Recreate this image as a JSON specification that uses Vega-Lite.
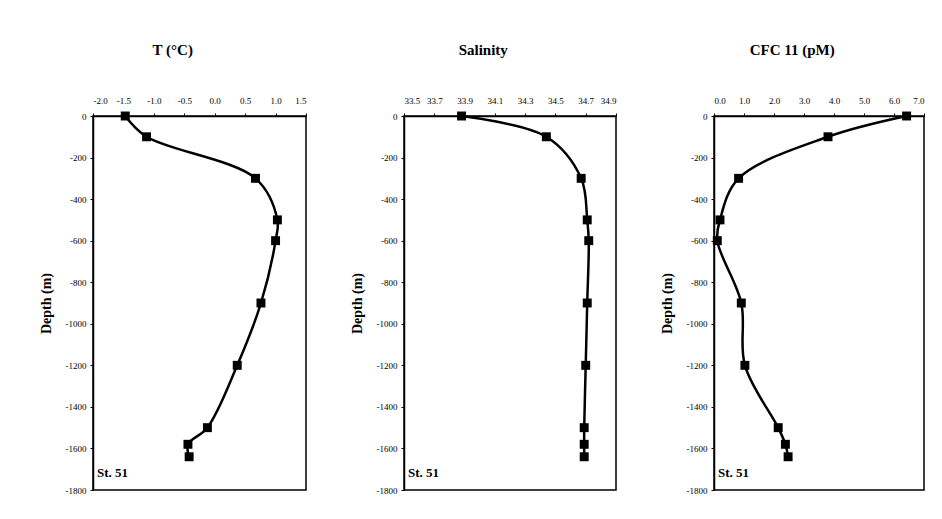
{
  "$schema": "https://vega.github.io/schema/vega-lite/v6.json",
  "padding": {"top": 42, "left": 38, "right": 5, "bottom": 5},
  "background": "white",
  "bounds": "flush",
  "datasets": {
    "temp": [
      {"depth": 0, "value": -1.47},
      {"depth": -100, "value": -1.12},
      {"depth": -300, "value": 0.67},
      {"depth": -500, "value": 1.03},
      {"depth": -600, "value": 1.0},
      {"depth": -900, "value": 0.76},
      {"depth": -1200, "value": 0.37},
      {"depth": -1500, "value": -0.12},
      {"depth": -1580, "value": -0.44},
      {"depth": -1640, "value": -0.42}
    ],
    "sal": [
      {"depth": 0, "value": 33.88},
      {"depth": -100, "value": 34.44},
      {"depth": -300, "value": 34.67},
      {"depth": -500, "value": 34.71},
      {"depth": -600, "value": 34.72},
      {"depth": -900, "value": 34.71},
      {"depth": -1200, "value": 34.70},
      {"depth": -1500, "value": 34.69},
      {"depth": -1580, "value": 34.69},
      {"depth": -1640, "value": 34.69}
    ],
    "cfc": [
      {"depth": 0, "value": 6.42},
      {"depth": -100, "value": 3.8},
      {"depth": -300, "value": 0.82},
      {"depth": -500, "value": 0.2},
      {"depth": -600, "value": 0.11},
      {"depth": -900, "value": 0.91},
      {"depth": -1200, "value": 1.03},
      {"depth": -1500, "value": 2.14},
      {"depth": -1580, "value": 2.38},
      {"depth": -1640, "value": 2.47}
    ],
    "label": [{"text": "St. 51", "tx": -2, "sx": 33.5, "cx": 0, "ty": -1720}]
  },
  "config": {
    "locale": {"number": {"decimal": ".", "thousands": ",", "grouping": [3], "currency": ["$", ""], "minus": "-"}},
    "font": "Liberation Serif",
    "view": {"stroke": "black", "strokeWidth": 1.5},
    "axis": {
      "grid": false,
      "domainColor": "black",
      "domainWidth": 1.5,
      "tickColor": "black",
      "tickSize": 3,
      "labelOverlap": false,
      "labelSeparation": 0,
      "labelFont": "Liberation Serif",
      "labelFontSize": 9,
      "labelColor": "black",
      "titleFont": "Liberation Serif",
      "titleFontSize": 14,
      "titleFontWeight": "bold",
      "titleColor": "black"
    },
    "title": {"font": "Liberation Serif", "fontSize": 15, "fontWeight": "bold", "color": "black", "frame": "bounds", "anchor": "middle", "offset": 38},
    "concat": {"spacing": 98}
  },
  "hconcat": [
    {
      "width": 213, "height": 374,
      "title": "T (°C)",
      "encoding": {
        "x": {"field": "value", "type": "quantitative", "scale": {"domain": [-2, 1.5], "nice": false, "zero": false},
              "axis": {"orient": "top", "title": null, "values": [-2, -1.5, -1, -0.5, 0, 0.5, 1, 1.5], "format": ".1f", "labelPadding": 8, "labelOverlap": false}},
        "y": {"field": "depth", "type": "quantitative", "scale": {"domain": [-1800, 0], "nice": false},
              "axis": {"title": "Depth (m)", "values": [0, -200, -400, -600, -800, -1000, -1200, -1400, -1600, -1800], "format": "d", "labelPadding": 4, "titlePadding": 12, "labelOverlap": false}}
      },
      "layer": [
        {
          "data": {"name": "temp"},
          "mark": {"type": "line", "interpolate": "catmull-rom", "color": "black", "strokeWidth": 2.5},
          "encoding": {"order": {"field": "depth", "type": "quantitative", "sort": "descending"}}
        },
        {
          "data": {"name": "temp"},
          "mark": {"type": "point", "shape": "square", "filled": true, "size": 80, "color": "black", "opacity": 1},
          "encoding": {}
        },
        {
          "data": {"name": "label"},
          "mark": {"type": "text", "align": "left", "baseline": "middle", "dx": 4, "fontSize": 13, "fontWeight": "bold", "color": "black", "font": "Liberation Serif"},
          "encoding": {
            "x": {"field": "tx", "type": "quantitative"},
            "y": {"field": "ty", "type": "quantitative"},
            "text": {"field": "text"}
          }
        }
      ]
    },
    {
      "width": 212, "height": 374,
      "title": "Salinity",
      "encoding": {
        "x": {"field": "value", "type": "quantitative", "scale": {"domain": [33.5, 34.9], "nice": false, "zero": false},
              "axis": {"orient": "top", "title": null, "values": [33.5, 33.7, 33.9, 34.1, 34.3, 34.5, 34.7, 34.9], "format": ".1f", "labelPadding": 8, "labelOverlap": false}},
        "y": {"field": "depth", "type": "quantitative", "scale": {"domain": [-1800, 0], "nice": false},
              "axis": {"title": "Depth (m)", "values": [0, -200, -400, -600, -800, -1000, -1200, -1400, -1600, -1800], "format": "d", "labelPadding": 4, "titlePadding": 12, "labelOverlap": false}}
      },
      "layer": [
        {
          "data": {"name": "sal"},
          "mark": {"type": "line", "interpolate": "catmull-rom", "color": "black", "strokeWidth": 2.5},
          "encoding": {"order": {"field": "depth", "type": "quantitative", "sort": "descending"}}
        },
        {
          "data": {"name": "sal"},
          "mark": {"type": "point", "shape": "square", "filled": true, "size": 80, "color": "black", "opacity": 1},
          "encoding": {}
        },
        {
          "data": {"name": "label"},
          "mark": {"type": "text", "align": "left", "baseline": "middle", "dx": 4, "fontSize": 13, "fontWeight": "bold", "color": "black", "font": "Liberation Serif"},
          "encoding": {
            "x": {"field": "sx", "type": "quantitative"},
            "y": {"field": "ty", "type": "quantitative"},
            "text": {"field": "text"}
          }
        }
      ]
    },
    {
      "width": 210, "height": 374,
      "title": "CFC 11 (pM)",
      "encoding": {
        "x": {"field": "value", "type": "quantitative", "scale": {"domain": [0, 7], "nice": false, "zero": false},
              "axis": {"orient": "top", "title": null, "values": [0, 1, 2, 3, 4, 5, 6, 7], "format": ".1f", "labelPadding": 8, "labelOverlap": false}},
        "y": {"field": "depth", "type": "quantitative", "scale": {"domain": [-1800, 0], "nice": false},
              "axis": {"title": "Depth (m)", "values": [0, -200, -400, -600, -800, -1000, -1200, -1400, -1600, -1800], "format": "d", "labelPadding": 4, "titlePadding": 12, "labelOverlap": false}}
      },
      "layer": [
        {
          "data": {"name": "cfc"},
          "mark": {"type": "line", "interpolate": "catmull-rom", "color": "black", "strokeWidth": 2.5},
          "encoding": {"order": {"field": "depth", "type": "quantitative", "sort": "descending"}}
        },
        {
          "data": {"name": "cfc"},
          "mark": {"type": "point", "shape": "square", "filled": true, "size": 80, "color": "black", "opacity": 1},
          "encoding": {}
        },
        {
          "data": {"name": "label"},
          "mark": {"type": "text", "align": "left", "baseline": "middle", "dx": 4, "fontSize": 13, "fontWeight": "bold", "color": "black", "font": "Liberation Serif"},
          "encoding": {
            "x": {"field": "cx", "type": "quantitative"},
            "y": {"field": "ty", "type": "quantitative"},
            "text": {"field": "text"}
          }
        }
      ]
    }
  ]
}
